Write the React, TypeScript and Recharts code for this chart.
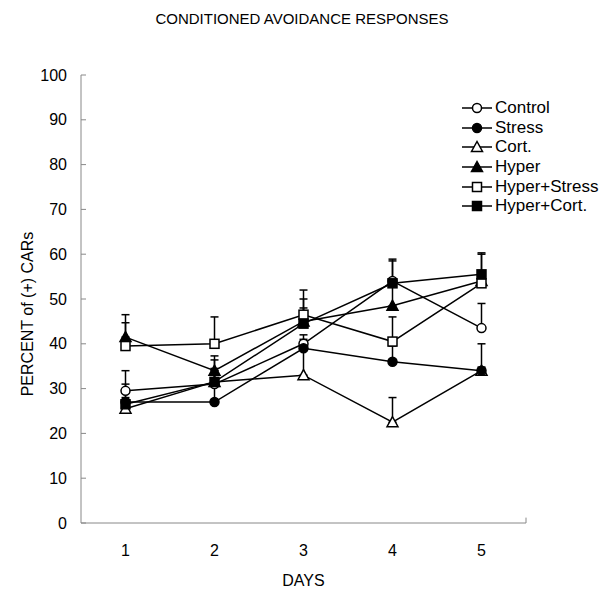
import React from "react";
import { LineChart, Line, XAxis, YAxis, ErrorBar, ReferenceLine } from "recharts";

const days = [1, 2, 3, 4, 5];
const yTicks = [0, 10, 20, 30, 40, 50, 60, 70, 80, 90, 100];

const control = [29.5, 31, 40, 54, 43.5];
const controlErr = [4.5, 3, 2, 4.5, 5.5];
const stress = [27, 27, 39, 36, 34];
const stressErr = [2, 4, 2, 3.5, 6];
const cort = [25.5, 31.5, 33, 22.5, 34];
const cortErr = [2.5, 3, 5.5, 5.5, 0.8];
const hyper = [41.5, 34, 45, 48.5, 54];
const hyperErr = [5, 3.3, 3, 4.5, 2];
const hyperStress = [39.5, 40, 46.5, 40.5, 53.5];
const hyperStressErr = [5.2, 6, 5.5, 5.5, 6.5];
const hyperCort = [26.5, 31.5, 44.5, 53.5, 55.5];
const hyperCortErr = [4.5, 4.9, 5.5, 5.4, 4.8];

type Shape = "circle" | "triangle" | "square";

const series = [
  { key: "control", name: "Control", values: control, errs: controlErr, shape: "circle" as Shape, filled: false },
  { key: "stress", name: "Stress", values: stress, errs: stressErr, shape: "circle" as Shape, filled: true },
  { key: "cort", name: "Cort.", values: cort, errs: cortErr, shape: "triangle" as Shape, filled: false },
  { key: "hyper", name: "Hyper", values: hyper, errs: hyperErr, shape: "triangle" as Shape, filled: true },
  { key: "hyperStress", name: "Hyper+Stress", values: hyperStress, errs: hyperStressErr, shape: "square" as Shape, filled: false },
  { key: "hyperCort", name: "Hyper+Cort.", values: hyperCort, errs: hyperCortErr, shape: "square" as Shape, filled: true },
];

// drawing order: open triangles under the filled circles
const drawOrder = ["cort", "control", "stress", "hyper", "hyperStress", "hyperCort"];

const data = days.map((day, i) => {
  const row: Record<string, number | number[]> = { day };
  series.forEach((s) => {
    row[s.key] = s.values[i];
    row[s.key + "Err"] = [0, s.errs[i]];
  });
  return row;
});

const FONT = '"Liberation Sans", Arial, sans-serif';

function Marker({ cx, cy, shape, filled }: { cx?: number; cy?: number; shape: Shape; filled: boolean }) {
  if (cx == null || cy == null) return null;
  const fill = filled ? "#000" : "#fff";
  const common = { fill, stroke: "#000", strokeWidth: 1.5 };
  if (shape === "circle") return <circle cx={cx} cy={cy} r={4.5} {...common} />;
  if (shape === "square") return <rect x={cx - 4.5} y={cy - 4.5} width={9} height={9} {...common} />;
  return (
    <polygon
      points={`${cx},${cy - 5.5} ${cx - 5.5},${cy + 4.5} ${cx + 5.5},${cy + 4.5}`}
      {...common}
    />
  );
}

function YTick(props: any) {
  const { x, y, payload } = props;
  return (
    <g>
      <text x={x} y={y} dy="0.35em" textAnchor="end" fontSize={16} fill="#000" fontFamily={FONT}>
        {payload.value}
      </text>
      <line x1={x + 14} x2={x + 19} y1={y} y2={y} stroke="#888" strokeWidth={1} />
    </g>
  );
}

function ChartLegend() {
  return (
    <div style={{ position: "absolute", left: 461, top: 98, fontFamily: FONT, fontSize: 17 }}>
      {series.map((s) => (
        <div key={s.key} style={{ display: "flex", alignItems: "center", height: 19.7 }}>
          <svg width={33} height={20}>
            <line x1={1} x2={31} y1={10} y2={10} stroke="#000" strokeWidth={1.5} />
            <Marker cx={16} cy={10} shape={s.shape} filled={s.filled} />
          </svg>
          <span style={{ marginLeft: 1 }}>{s.name}</span>
        </div>
      ))}
    </div>
  );
}

export default function App() {
  const ordered = drawOrder.map((k) => series.find((s) => s.key === k)!);
  return (
    <div style={{ position: "absolute", left: 0, top: 0, width: 604, height: 589, background: "#fff" }}>
      <div
        style={{
          position: "absolute",
          top: 10,
          left: 0,
          width: 604,
          textAlign: "center",
          fontFamily: FONT,
          fontSize: 15,
        }}
      >
        CONDITIONED AVOIDANCE RESPONSES
      </div>
      <LineChart width={604} height={589} data={data} margin={{ top: 75, right: 78, bottom: 0, left: 0 }}>
        <XAxis
          dataKey="day"
          type="number"
          domain={[0.5, 5.5]}
          ticks={days}
          tickLine={false}
          tickSize={0}
          tickMargin={22}
          stroke="#888"
          height={66}
          tick={{ fontSize: 16, fill: "#000", fontFamily: FONT }}
          label={{ value: "DAYS", position: "insideBottom", offset: 3, fontSize: 16, fill: "#000", fontFamily: FONT }}
        />
        <YAxis
          type="number"
          domain={[0, 100]}
          ticks={yTicks}
          width={81}
          tickSize={0}
          tickMargin={14}
          tickLine={false}
          stroke="#888"
          tick={<YTick />}
          label={{
            value: "PERCENT of (+) CARs",
            angle: -90,
            position: "center",
            dx: -13,
            dy: 15,
            fontSize: 16,
            fill: "#000",
            fontFamily: FONT,
          }}
        />
        <ReferenceLine
          segment={[
            { x: 5.5, y: 0 },
            { x: 5.5, y: 1.2 },
          ]}
          stroke="#888"
        />
        {ordered.map((s) => (
          <Line
            key={s.key}
            dataKey={s.key}
            type="linear"
            stroke="#000"
            strokeWidth={1.5}
            isAnimationActive={false}
            activeDot={false}
            dot={(p: any) => (
              <Marker key={`${s.key}-${p.index}`} cx={p.cx} cy={p.cy} shape={s.shape} filled={s.filled} />
            )}
          >
            <ErrorBar dataKey={s.key + "Err"} direction="y" width={4} stroke="#000" strokeWidth={1.5} />
          </Line>
        ))}
      </LineChart>
      <ChartLegend />
    </div>
  );
}
